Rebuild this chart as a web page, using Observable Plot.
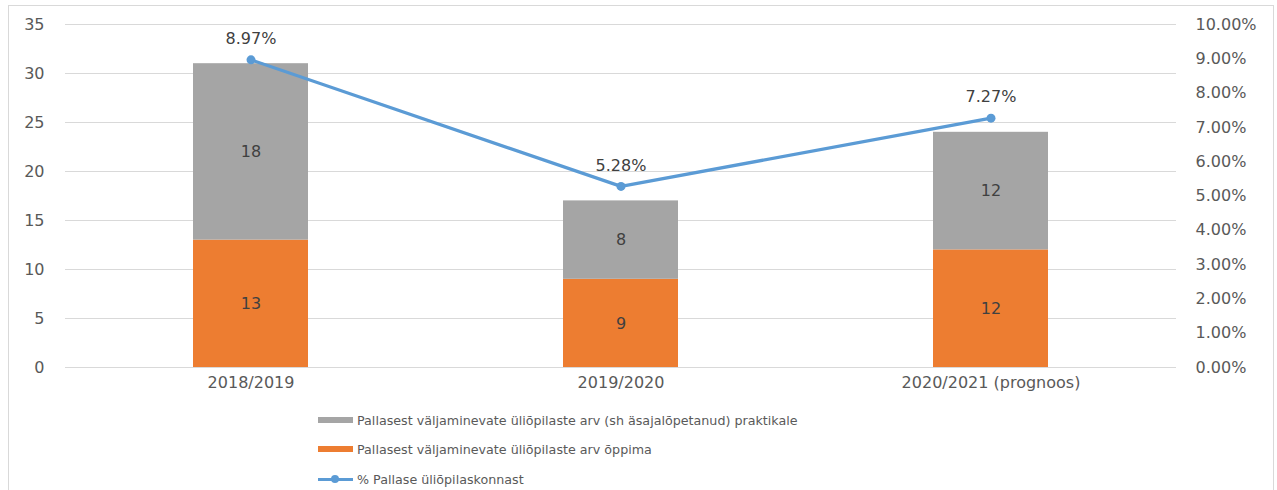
<!DOCTYPE html>
<html>
<head>
<meta charset="utf-8">
<script src="https://cdn.jsdelivr.net/npm/d3@7"></script>
<script src="https://cdn.jsdelivr.net/npm/@observablehq/plot@0.6"></script>
<style>
  html, body { margin: 0; padding: 0; background: #fff; }
  #wrap { position: relative; width: 1277px; height: 490px; overflow: hidden; font-family: "DejaVu Sans", sans-serif; }
  #frame { position: absolute; left: 8px; top: 5px; width: 1266px; height: 520px; border: 1px solid #D9D9D9; box-sizing: border-box; }
  #chart { position: absolute; left: 0; top: 0; }
  .leg { position: absolute; left: 318px; height: 20px; display: flex; align-items: center; font-size: 12.7px; color: #595959; white-space: nowrap; }
  .sw { width: 35px; height: 6px; margin-right: 4px; }
  .lsw { position: relative; width: 35px; height: 20px; margin-right: 4px; }
  .lsw .ln { position: absolute; left: 0; top: 8.5px; width: 35px; height: 3px; background: #5B9BD5; }
  .lsw .dt { position: absolute; left: 13px; top: 6px; width: 8px; height: 8px; border-radius: 50%; background: #5B9BD5; }
</style>
</head>
<body>
<div id="wrap">
  <div id="frame"></div>
  <div id="chart"></div>
  <div id="legend"></div>
</div>
<script>
const categories = ["2018/2019", "2019/2020", "2020/2021 (prognoos)"];
const studyValues = [13, 9, 12];      // Pallasest väljaminevate üliõpilaste arv õppima
const practiceValues = [18, 8, 12];   // ... praktikale
const percentValues = [8.97, 5.28, 7.27]; // % Pallase üliõpilaskonnast
const leftTicks = [0, 5, 10, 15, 20, 25, 30, 35];
const rightTicks = [0, 1, 2, 3, 4, 5, 6, 7, 8, 9, 10];
const seriesNames = [
  "Pallasest väljaminevate üliõpilaste arv (sh äsajalõpetanud) praktikale",
  "Pallasest väljaminevate üliõpilaste arv õppima",
  "% Pallase üliõpilaskonnast"
];
const seriesColors = ["#A5A5A5", "#ED7D31", "#5B9BD5"];

// left axis max 35 corresponds to right axis max 10%
const ratio = leftTicks[leftTicks.length - 1] / rightTicks[rightTicks.length - 1];

const barRows = [];
categories.forEach((c, i) => {
  barRows.push({cat: c, series: seriesNames[1], value: studyValues[i]});
});
categories.forEach((c, i) => {
  barRows.push({cat: c, series: seriesNames[0], value: practiceValues[i]});
});
const lineRows = categories.map((c, i) => ({cat: c, pct: percentValues[i]}));

const plot = Plot.plot({
  width: 1277,
  height: 400,
  marginLeft: 65,
  marginRight: 101,
  marginTop: 24,
  marginBottom: 33,
  style: {fontFamily: "DejaVu Sans, sans-serif", fontSize: "16px", background: "transparent", color: "#595959"},
  x: {domain: categories, paddingInner: 0.689, paddingOuter: 0.3445, label: null},
  y: {domain: [0, 35], label: null},
  color: {domain: seriesNames.slice(0, 2), range: seriesColors.slice(0, 2)},
  marks: [
    Plot.ruleY(leftTicks, {stroke: "#D9D9D9", strokeWidth: 1}),
    Plot.axisY(leftTicks, {anchor: "left", tickSize: 0, tickPadding: 21, label: null, fill: "#595959"}),
    Plot.axisY(rightTicks.map(p => p * ratio), {anchor: "right", tickSize: 0, tickPadding: 19, textAnchor: "start", label: null, fill: "#595959", tickFormat: d => (d / ratio).toFixed(2) + "%"}),
    Plot.axisX({tickSize: 0, tickPadding: 9, label: null, fill: "#595959"}),
    Plot.barY(barRows, {x: "cat", y: "value", fill: "series", z: "series", order: seriesNames.slice(0, 2).reverse()}),
    Plot.text(barRows, Plot.stackY({x: "cat", y: "value", z: "series", text: d => String(d.value), fill: "#404040", fontSize: 16, order: seriesNames.slice(0, 2).reverse()})),
    Plot.line(lineRows, {x: "cat", y: d => d.pct * ratio, stroke: seriesColors[2], strokeWidth: 3.25}),
    Plot.dot(lineRows, {x: "cat", y: d => d.pct * ratio, fill: seriesColors[2], r: 4.5, stroke: "none"}),
    Plot.text(lineRows, {x: "cat", y: d => d.pct * ratio, text: d => d.pct.toFixed(2) + "%", dy: -21, fill: "#404040", fontSize: 16})
  ]
});
document.getElementById("chart").appendChild(plot);

const legend = document.getElementById("legend");
const legTops = [410, 439, 469];
seriesNames.forEach((name, i) => {
  const row = document.createElement("div");
  row.className = "leg";
  row.style.top = legTops[i] + "px";
  let sw;
  if (i < 2) {
    sw = document.createElement("div");
    sw.className = "sw";
    sw.style.background = seriesColors[i];
  } else {
    sw = document.createElement("div");
    sw.className = "lsw";
    sw.innerHTML = '<div class="ln"></div><div class="dt"></div>';
  }
  row.appendChild(sw);
  const t = document.createElement("span");
  t.textContent = name;
  row.appendChild(t);
  legend.appendChild(row);
});
</script>
</body>
</html>
